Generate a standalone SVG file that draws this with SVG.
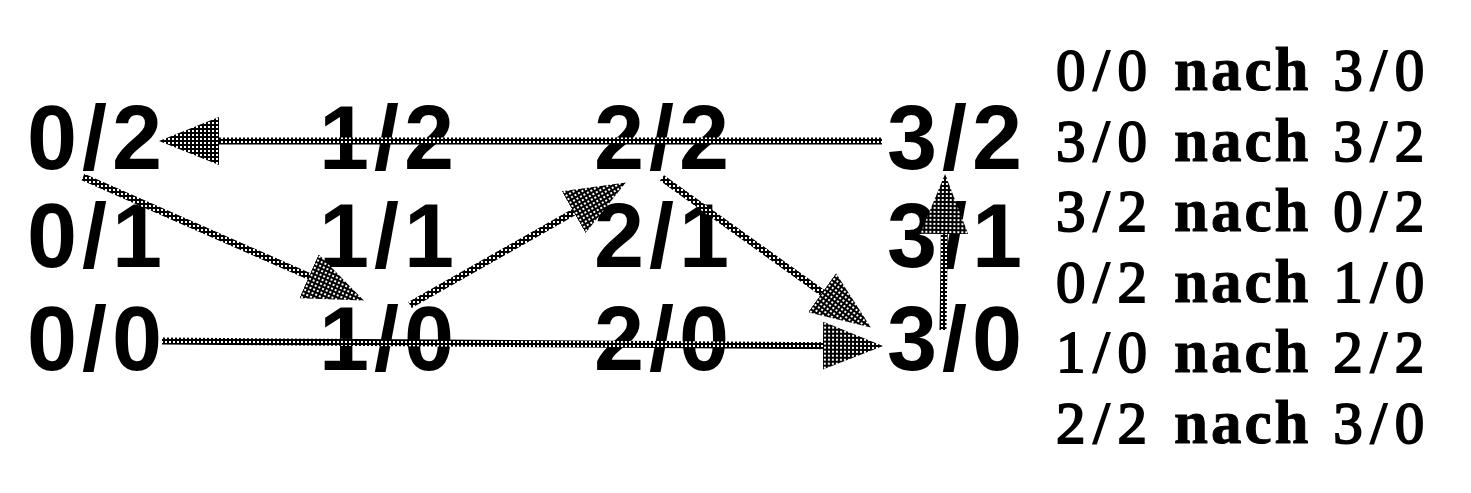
<svg xmlns="http://www.w3.org/2000/svg" width="1471" height="493" viewBox="0 0 1471 493">
  <style>
    .n { font-family: "Liberation Sans", Arial, sans-serif; font-weight: bold; font-size: 90px; fill: #000; text-anchor: middle; letter-spacing: 5px; }
    .l { font-family: "Liberation Serif", "Times New Roman", serif; font-size: 59px; fill: #000; stroke: #000; stroke-width: 1.9px; }
    .l .b { font-weight: bold; font-size: 61px; letter-spacing: 3px; stroke-width: 1px; }
    .e { fill: none; stroke: url(#mesh); stroke-width: 7; }
  </style>
  <defs>
    <pattern id="mesh" patternUnits="userSpaceOnUse" x="0" y="0" width="4" height="4">
      <rect width="4" height="4" fill="#000"/>
      <rect x="1" y="1" width="2" height="2" fill="#fff"/>
    </pattern>
    <marker id="arr" markerUnits="userSpaceOnUse" markerWidth="60" markerHeight="48" viewBox="0 0 60 48" refX="9" refY="24" orient="auto">
      <path d="M0,0 L60,24 L0,48 Z" fill="url(#mesh)"/>
    </marker>
  </defs>
  <rect width="1471" height="493" fill="#fff"/>

  <g id="n02"><text class="n" x="97" y="169">0/2</text></g>
  <g id="n12"><text class="n" x="389" y="169">1/2</text></g>
  <g id="n22"><text class="n" x="664" y="169">2/2</text></g>
  <g id="n32"><text class="n" x="957" y="169">3/2</text></g>
  <g id="n01"><text class="n" x="97" y="267">0/1</text></g>
  <g id="n11"><text class="n" x="389" y="267">1/1</text></g>
  <g id="n21"><text class="n" x="664" y="267">2/1</text></g>
  <g id="n31"><text class="n" x="957" y="267">3/1</text></g>
  <g id="n00"><text class="n" x="97" y="370">0/0</text></g>
  <g id="n10"><text class="n" x="389" y="370">1/0</text></g>
  <g id="n20"><text class="n" x="664" y="370">2/0</text></g>
  <g id="n30"><text class="n" x="957" y="370">3/0</text></g>

  <g id="connectors">
    <line class="e" x1="882" y1="141" x2="210" y2="141" marker-end="url(#arr)"/>
    <line class="e" x1="83" y1="177" x2="317.2" y2="279.9" marker-end="url(#arr)"/>
    <line class="e" x1="410" y1="305" x2="581.5" y2="207.7" marker-end="url(#arr)"/>
    <line class="e" x1="662" y1="178" x2="829.4" y2="297.9" marker-end="url(#arr)"/>
    <line class="e" x1="162" y1="341" x2="832" y2="345.7" marker-end="url(#arr)"/>
    <line class="e" x1="943" y1="330" x2="944.4" y2="225" marker-end="url(#arr)"/>
  </g>

  <g id="legend" class="l">
    <text y="90"><tspan x="1056 1093.3 1117.6">0/0</tspan><tspan class="b" x="1174">nach</tspan><tspan x="1333.2 1370.5 1394.8">3/0</tspan></text>
    <text y="161"><tspan x="1056 1093.3 1117.6">3/0</tspan><tspan class="b" x="1174">nach</tspan><tspan x="1333.2 1370.5 1394.8">3/2</tspan></text>
    <text y="231"><tspan x="1056 1093.3 1117.6">3/2</tspan><tspan class="b" x="1174">nach</tspan><tspan x="1333.2 1370.5 1394.8">0/2</tspan></text>
    <text y="302"><tspan x="1056 1093.3 1117.6">0/2</tspan><tspan class="b" x="1174">nach</tspan><tspan x="1333.2 1370.5 1394.8">1/0</tspan></text>
    <text y="372"><tspan x="1056 1093.3 1117.6">1/0</tspan><tspan class="b" x="1174">nach</tspan><tspan x="1333.2 1370.5 1394.8">2/2</tspan></text>
    <text y="443"><tspan x="1056 1093.3 1117.6">2/2</tspan><tspan class="b" x="1174">nach</tspan><tspan x="1333.2 1370.5 1394.8">3/0</tspan></text>
  </g>
</svg>
